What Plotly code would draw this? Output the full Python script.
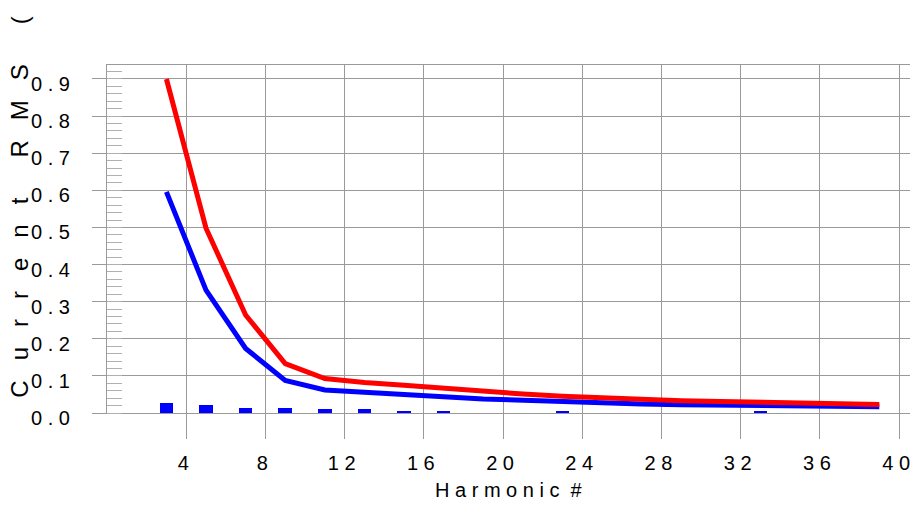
import plotly.graph_objects as go

# ---- data ----
harmonics = [3, 5, 7, 9, 11, 13, 15, 17, 19, 21, 23, 25, 27, 29, 31, 33, 35, 37, 39]
red_values = [0.900, 0.498, 0.264, 0.133, 0.093, 0.082, 0.075, 0.066, 0.058, 0.051,
              0.045, 0.040, 0.036, 0.033, 0.031, 0.029, 0.027, 0.025, 0.023]
blue_values = [0.596, 0.331, 0.174, 0.088, 0.062, 0.055, 0.050, 0.044, 0.038, 0.034,
               0.030, 0.026, 0.024, 0.022, 0.021, 0.020, 0.019, 0.018, 0.017]
bar_harmonics = [3, 5, 7, 9, 11, 13, 15, 17, 23, 33]
bar_values = [0.026, 0.022, 0.014, 0.014, 0.010, 0.010, 0.0055, 0.0055, 0.004, 0.003]

x_tick_vals = [4, 8, 12, 16, 20, 24, 28, 32, 36, 40]
x_tick_text = ["4", "8", "1 2", "1 6", "2 0", "2 4", "2 8", "3 2", "3 6", "4 0"]
y_tick_vals = [0.0, 0.1, 0.2, 0.3, 0.4, 0.5, 0.6, 0.7, 0.8, 0.9]
y_tick_text = ["0 . 0", "0 . 1", "0 . 2", "0 . 3", "0 . 4", "0 . 5", "0 . 6", "0 . 7", "0 . 8", "0 . 9"]

x_title = "H a r m o n i c  #"
y_title = "C u r r e n t  R M S  ( A )"

NB = "\u00a0"
FONT = "Liberation Sans, Arial, sans-serif"
GRID = "#9a9a9a"


def spaced(s, n):
    return s.replace(" ", NB * n)


fig = go.Figure()
fig.add_trace(go.Bar(x=bar_harmonics, y=bar_values, width=0.68,
                     marker=dict(color="#0000ff", line=dict(width=0)), showlegend=False))
fig.add_trace(go.Scatter(x=harmonics, y=blue_values, mode="lines",
                         line=dict(color="#0000ff", width=5), showlegend=False))
fig.add_trace(go.Scatter(x=harmonics, y=red_values, mode="lines",
                         line=dict(color="#ff0000", width=5), showlegend=False))

fig.update_layout(
    width=912, height=511,
    margin=dict(l=107, r=2, t=65, b=98),
    paper_bgcolor="white", plot_bgcolor="white",
    font=dict(family=FONT, color="black"),
    bargap=0,
    xaxis=dict(
        range=[0, 40.55], tickmode="array", tickvals=x_tick_vals,
        ticktext=[spaced(t, 1) for t in x_tick_text],
        ticks="outside", ticklen=25, tickcolor=GRID, tickwidth=1,
        showgrid=True, gridcolor=GRID, gridwidth=1,
        showline=True, linecolor=GRID, linewidth=1, mirror=True,
        zeroline=False, ticklabelstandoff=7, ticklabelshift=-3,
        ticklabeloverflow="allow",
        tickfont=dict(size=20, family=FONT),
    ),
    yaxis=dict(
        range=[0, 0.9377], tickmode="array", tickvals=y_tick_vals,
        ticktext=[spaced(t, 1) for t in y_tick_text],
        ticks="outside", ticklen=14, tickcolor=GRID, tickwidth=1,
        showgrid=True, gridcolor=GRID, gridwidth=1,
        showline=True, linecolor=GRID, linewidth=1,
        zeroline=False, ticklabelstandoff=18, ticklabelshift=5,
        ticklabeloverflow="allow",
        tickfont=dict(size=20, family=FONT),
        minor=dict(dtick=0.02, tick0=0, ticks="inside", ticklen=15,
                   tickcolor="#b0b0b0", tickwidth=1, showgrid=False),
    ),
    annotations=[
        dict(text=spaced(x_title, 1), xref="paper", yref="paper",
             x=0.5, y=-0.221, xanchor="center", yanchor="middle",
             showarrow=False, font=dict(size=20, family=FONT)),
        dict(text=spaced(y_title, 3), xref="paper", yref="paper",
             x=-0.1083, y=0.037, xanchor="center", yanchor="bottom",
             textangle=-90, showarrow=False, font=dict(size=24, family=FONT)),
    ],
)

fig.write_html("out.html", config={"displayModeBar": False})
